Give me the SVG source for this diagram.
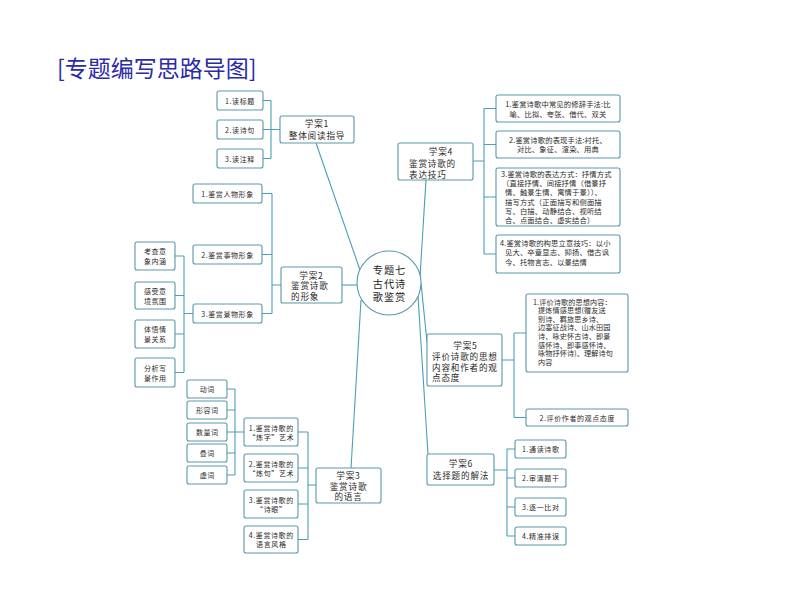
<svg xmlns="http://www.w3.org/2000/svg" width="794" height="596" viewBox="0 0 794 596">
<style>
.n rect{fill:#fff;stroke:#5a97ab;stroke-width:1.1}
.n circle{fill:#fff;stroke:#5a97ab;stroke-width:1.1}
.c path{fill:none;stroke:#4aa0b6;stroke-width:1.1}
text{font-family:"Noto Sans CJK SC","Noto Sans",sans-serif;fill:#2a2a2a;dominant-baseline:central}
.s{font-size:7px;text-anchor:middle;letter-spacing:0.6px}
.m{font-size:8.6px;letter-spacing:0.8px}
.mc{text-anchor:middle}
.l{font-size:7.3px;letter-spacing:0.15px}
.lc{text-anchor:middle}
.p{font-size:7.1px;letter-spacing:0.15px}
.ttl{font-size:23px;fill:#2b2ba8;dominant-baseline:auto}
.ctr{font-size:10.2px;text-anchor:middle;fill:#1e1e1e;letter-spacing:1px}
</style>
<rect width="794" height="596" fill="#fff"/>
<text class="ttl" x="57" y="77">[专题编写思路导图]</text>

<g class="c" id="connectors">
<path d="M316,143 L360,270"/>
<path d="M342,285 H357"/>
<path d="M361,300 L351,468"/>
<path d="M426,180 L419,293"/>
<path d="M421,283 L427,342"/>
<path d="M418,296 L428,454"/>
<path d="M263,100.5 H271 M263,129.5 H280 M263,158.5 H271 M271,100.5 V158.5"/>
<path d="M262,193.5 H272 M262,254.5 H272 M262,313.5 H272 M272,193.5 V313.5 M272,285 H281"/>
<path d="M175,256 H184 M175,295.5 H184 M175,334 H184 M175,372.5 H184 M184,256 V372.5 M184,313.5 H193"/>
<path d="M298,432 H308 M298,468 H308 M298,504 H308 M298,539.5 H308 M308,432 V539.5 M308,485 H316"/>
<path d="M227,389 H235 M227,410 H235 M227,432 H235 M227,453 H235 M227,475 H235 M235,389 V475 M235,432 H244"/>
<path d="M473,161 H484 M484,108.5 H496 M484,144.5 H496 M484,197 H496 M484,254 H496 M484,108.5 V254"/>
<path d="M502,360 H514 M514,333 H526 M514,417.5 H526 M514,333 V417.5"/>
<path d="M494,470 H507 M507,449 H515 M507,478 H515 M507,507 H515 M507,536 H515 M507,449 V536"/>
</g>

<g class="n" id="center">
<circle cx="389" cy="283" r="32"/>
<text class="ctr" x="389.5" y="269.2">专题七</text>
<text class="ctr" x="389.5" y="283">古代诗</text>
<text class="ctr" x="389.5" y="296.8">歌鉴赏</text>
</g>

<g class="n" id="xa1">
<rect x="280" y="116" width="74" height="27" rx="2"/>
<text class="m mc" x="317" y="123">学案1</text>
<text class="m mc" x="317" y="135">整体阅读指导</text>
</g>
<g class="n" id="xa1-1"><rect x="217" y="91" width="46" height="19" rx="2"/><text class="s" x="240" y="100.5">1.读标题</text></g>
<g class="n" id="xa1-2"><rect x="217" y="120" width="46" height="19" rx="2"/><text class="s" x="240" y="129.5">2.读诗句</text></g>
<g class="n" id="xa1-3"><rect x="217" y="149" width="46" height="19" rx="2"/><text class="s" x="240" y="158.5">3.读注释</text></g>

<g class="n" id="xa2">
<rect x="281" y="267" width="61" height="36" rx="2"/>
<text class="m mc" x="311.5" y="274.5">学案2</text>
<text class="m" x="291" y="285">鉴赏诗歌</text>
<text class="m" x="291" y="295.5">的形象</text>
</g>
<g class="n" id="xa2-1"><rect x="193" y="184" width="69" height="19" rx="2"/><text class="s" x="227.5" y="193.5">1.鉴赏人物形象</text></g>
<g class="n" id="xa2-2"><rect x="193" y="245" width="69" height="19" rx="2"/><text class="s" x="227.5" y="254.5">2.鉴赏事物形象</text></g>
<g class="n" id="xa2-3"><rect x="193" y="304" width="69" height="19" rx="2"/><text class="s" x="227.5" y="313.5">3.鉴赏景物形象</text></g>
<g class="n" id="xa2-3a"><rect x="135" y="242" width="40" height="28" rx="2"/><text class="s" x="155.3" y="251">考查意</text><text class="s" x="155.3" y="261">象内涵</text></g>
<g class="n" id="xa2-3b"><rect x="135" y="282" width="40" height="27" rx="2"/><text class="s" x="155.3" y="290.5">感受意</text><text class="s" x="155.3" y="300.5">境氛围</text></g>
<g class="n" id="xa2-3c"><rect x="135" y="320" width="40" height="28" rx="2"/><text class="s" x="155.3" y="329">体悟情</text><text class="s" x="155.3" y="339">景关系</text></g>
<g class="n" id="xa2-3d"><rect x="135" y="358" width="40" height="29" rx="2"/><text class="s" x="155.3" y="367.5">分析写</text><text class="s" x="155.3" y="377.5">景作用</text></g>

<g class="n" id="xa3">
<rect x="316" y="468" width="65" height="35" rx="2"/>
<text class="m mc" x="348.5" y="475">学案3</text>
<text class="m mc" x="348.5" y="485.5">鉴赏诗歌</text>
<text class="m mc" x="348.5" y="496">的语言</text>
</g>
<g class="n" id="xa3-1"><rect x="244" y="418" width="54" height="28" rx="2"/><text class="s" x="271.3" y="427.5">1.鉴赏诗歌的</text><text class="s" x="271.3" y="436.5">“炼字”艺术</text></g>
<g class="n" id="xa3-2"><rect x="244" y="454" width="54" height="28" rx="2"/><text class="s" x="271.3" y="463.5">2.鉴赏诗歌的</text><text class="s" x="271.3" y="472.5">“炼句”艺术</text></g>
<g class="n" id="xa3-3"><rect x="244" y="490" width="54" height="28" rx="2"/><text class="s" x="271.3" y="499.5">3.鉴赏诗歌的</text><text class="s" x="271.3" y="508.5">“诗眼”</text></g>
<g class="n" id="xa3-4"><rect x="244" y="526" width="54" height="27" rx="2"/><text class="s" x="271.3" y="535">4.鉴赏诗歌的</text><text class="s" x="271.3" y="544">语言风格</text></g>
<g class="n" id="xa3-1a"><rect x="187" y="380" width="40" height="18" rx="2"/><text class="s" x="207.3" y="389">动词</text></g>
<g class="n" id="xa3-1b"><rect x="187" y="401" width="40" height="18" rx="2"/><text class="s" x="207.3" y="410">形容词</text></g>
<g class="n" id="xa3-1c"><rect x="187" y="423" width="40" height="18" rx="2"/><text class="s" x="207.3" y="432">数量词</text></g>
<g class="n" id="xa3-1d"><rect x="187" y="444" width="40" height="18" rx="2"/><text class="s" x="207.3" y="453">叠词</text></g>
<g class="n" id="xa3-1e"><rect x="187" y="466" width="40" height="18" rx="2"/><text class="s" x="207.3" y="475">虚词</text></g>

<g class="n" id="xa4">
<rect x="398" y="143" width="75" height="37" rx="2"/>
<text class="m mc" x="441" y="151">学案4</text>
<text class="m" x="409" y="163">鉴赏诗歌的</text>
<text class="m" x="409" y="173.5">表达技巧</text>
</g>
<g class="n" id="xa4-1"><rect x="496" y="95" width="124" height="27" rx="2"/>
<text class="l lc" x="558" y="104">1.鉴赏诗歌中常见的修辞手法:比</text>
<text class="l lc" x="558" y="113.6">喻、比拟、夸张、借代、双关</text></g>
<g class="n" id="xa4-2"><rect x="496" y="131" width="124" height="27" rx="2"/>
<text class="l lc" x="558" y="139.5">2.鉴赏诗歌的表现手法:衬托、</text>
<text class="l lc" x="558" y="149">对比、象征、渲染、用典</text></g>
<g class="n" id="xa4-3"><rect x="496" y="168" width="124" height="58" rx="2"/>
<text class="l" x="501" y="173.6">3.鉴赏诗歌的表达方式：抒情方式</text>
<text class="l" x="502" y="182.9">（直接抒情、间接抒情（借景抒</text>
<text class="l" x="505" y="192.2">情、触景生情、寓情于景））、</text>
<text class="l" x="505" y="201.5">描写方式（正面描写和侧面描</text>
<text class="l" x="505" y="210.8">写、白描、动静结合、视听结</text>
<text class="l" x="505" y="220.1">合、点面结合、虚实结合）</text></g>
<g class="n" id="xa4-4"><rect x="496" y="235" width="124" height="38" rx="2"/>
<text class="l" x="500" y="243">4.鉴赏诗歌的构思立意技巧：以小</text>
<text class="l" x="505" y="252.4">见大、卒章显志、抑扬、借古讽</text>
<text class="l" x="505" y="261.8">今、托物言志、以景结情</text></g>

<g class="n" id="xa5">
<rect x="427" y="334" width="75" height="52" rx="2"/>
<text class="m mc" x="465.5" y="345">学案5</text>
<text class="m" x="432" y="355.7">评价诗歌的思想</text>
<text class="m" x="432" y="366.5">内容和作者的观</text>
<text class="m" x="432" y="377">点态度</text>
</g>
<g class="n" id="xa5-1"><rect x="526" y="294" width="102" height="78" rx="2"/>
<text class="p" x="533" y="301.5">1.评价诗歌的思想内容：</text>
<text class="p" x="538" y="310.1">提炼情感思想(赠友送</text>
<text class="p" x="538" y="318.7">别诗、羁旅思乡诗、</text>
<text class="p" x="538" y="327.3">边塞征战诗、山水田园</text>
<text class="p" x="538" y="335.9">诗、咏史怀古诗、即景</text>
<text class="p" x="538" y="344.5">感怀诗、即事感怀诗、</text>
<text class="p" x="538" y="353.1">咏物抒怀诗)、理解诗句</text>
<text class="p" x="538" y="361.7">内容</text></g>
<g class="n" id="xa5-2"><rect x="526" y="409" width="102" height="17" rx="2"/>
<text class="s" x="577.3" y="417.8">2.评价作者的观点态度</text></g>

<g class="n" id="xa6">
<rect x="427" y="454" width="67" height="31" rx="2"/>
<text class="m mc" x="461" y="463.3">学案6</text>
<text class="m mc" x="461" y="475">选择题的解法</text>
</g>
<g class="n" id="xa6-1"><rect x="515" y="440" width="51" height="18" rx="2"/><text class="s" x="540.8" y="449">1.通读诗歌</text></g>
<g class="n" id="xa6-2"><rect x="515" y="469" width="51" height="18" rx="2"/><text class="s" x="540.8" y="478">2.审清题干</text></g>
<g class="n" id="xa6-3"><rect x="515" y="498" width="51" height="18" rx="2"/><text class="s" x="540.8" y="507">3.逐一比对</text></g>
<g class="n" id="xa6-4"><rect x="515" y="527" width="51" height="18" rx="2"/><text class="s" x="540.8" y="536">4.精准排误</text></g>
</svg>
